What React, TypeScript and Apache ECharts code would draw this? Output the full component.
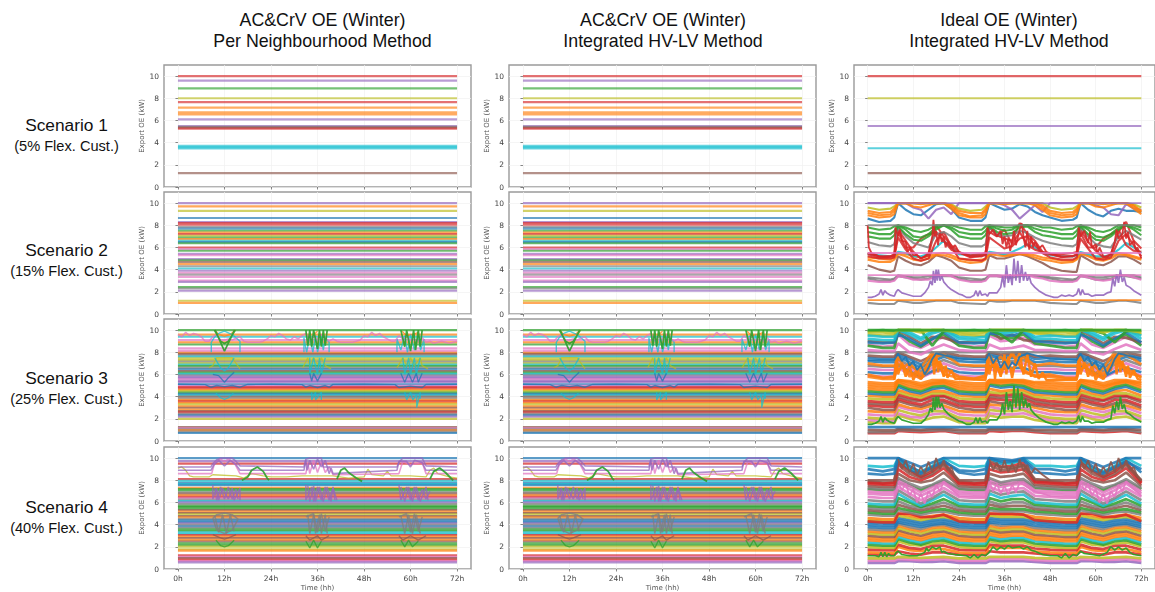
import React, { useEffect, useRef } from "react";
import * as echarts from "echarts";

const PALETTE = ["#1f77b4", "#ff7f0e", "#2ca02c", "#d62728", "#9467bd", "#8c564b", "#e377c2", "#7f7f7f", "#bcbd22", "#17becf"];
const columnTitles = [["AC&CrV OE (Winter)", "Per Neighbourhood Method"], ["AC&CrV OE (Winter)", "Integrated HV-LV Method"], ["Ideal OE (Winter)", "Integrated HV-LV Method"]];
const scenarioNames = ["Scenario 1", "Scenario 2", "Scenario 3", "Scenario 4"];
const scenarioShares = ["(5% Flex. Cust.)", "(15% Flex. Cust.)", "(25% Flex. Cust.)", "(40% Flex. Cust.)"];
const xTicks = [0, 12, 24, 36, 48, 60, 72];
const yTicks = [0, 2, 4, 6, 8, 10];

// flat lines: kW level + palette index
const s1Levels = [10, 9.6, 8.9, 8, 7.65, 7.15, 6.72, 6.55, 6.1, 5.5, 5.42, 5.35, 5.27, 3.72, 3.6, 3.48, 1.25];
const s1Colors = [3, 4, 2, 8, 3, 1, 1, 1, 4, 4, 7, 5, 3, 9, 9, 9, 5];
const idealS1Levels = [10, 8, 5.5, 3.5, 1.25];
const idealS1Colors = [3, 8, 4, 9, 5];
const s2Levels = [10, 9.7, 9.3, 8.65, 8.3, 8.2, 8.05, 7.85, 7.7, 7.5, 7.35, 7.2, 7.05, 6.9, 6.75, 6.6, 6.48, 6.38, 6, 5.85, 5.7, 5.42, 5.3, 4.95, 4.85, 4.7, 4.5, 4.3, 4.1, 3.9, 3.72, 3.55, 3.35, 3.02, 2.9, 2.42, 2.3, 2.1, 1.2, 1.0];
const s2Colors = [4, 1, 8, 0, 4, 3, 3, 7, 0, 2, 1, 3, 8, 2, 1, 9, 0, 2, 3, 6, 2, 4, 6, 4, 2, 5, 1, 7, 9, 4, 6, 7, 6, 6, 4, 2, 7, 4, 8, 1];
const s3Levels = [10, 9.6, 9.4, 9.1, 8.9, 8.7, 8.35, 8.12, 7.95, 7.85, 7.72, 7.6, 7.45, 7.3, 7.15, 7, 6.88, 6.75, 6.6, 6.45, 6.3, 6.17, 6.05, 5.92, 5.8, 5.67, 5.55, 5.42, 5.3, 5.1, 4.98, 4.87, 4.75, 4.62, 4.5, 4.37, 4.25, 4.12, 4, 3.85, 3.7, 3.58, 3.45, 3.3, 3.12, 3, 2.82, 2.7, 2.58, 2.45, 2.32, 2.2, 2, 1.25, 1.15, 1.05, 0.95, 0.85, 0.72];
const s3Colors = [2, 1, 9, 6, 1, 2, 6, 6, 1, 5, 7, 9, 8, 8, 7, 8, 9, 2, 7, 0, 5, 2, 9, 7, 4, 4, 6, 4, 4, 0, 6, 3, 3, 1, 8, 2, 0, 9, 5, 7, 1, 3, 1, 8, 1, 5, 1, 5, 3, 7, 0, 4, 8, 5, 6, 7, 1, 7, 0];
const s4Levels = [10, 9.72, 9.5, 8.1, 7.95, 7.75, 7.65, 7.55, 7.32, 7.2, 7.08, 6.92, 6.8, 6.65, 6.5, 6.38, 6.25, 6.12, 6, 5.85, 5.7, 5.58, 5.45, 5.32, 5.18, 5.05, 4.92, 4.78, 4.65, 4.52, 4.38, 4.25, 4.12, 4, 3.85, 3.72, 3.58, 3.45, 3.3, 3.18, 3.05, 2.92, 2.78, 2.62, 2.48, 2.32, 2.15, 2.02, 1.78, 1.65, 1.22, 1.1, 0.98, 0.85, 0.72, 0.6];
const s4Colors = [0, 4, 3, 3, 9, 0, 9, 0, 1, 2, 2, 7, 5, 1, 3, 6, 7, 9, 4, 7, 2, 2, 2, 5, 1, 5, 8, 5, 1, 7, 0, 0, 4, 7, 0, 7, 2, 2, 9, 9, 3, 1, 5, 1, 5, 2, 2, 8, 8, 1, 3, 6, 5, 3, 6, 4];

// wandering traces of the AC&CrV panels: [hour, kW], null breaks the line
type Pt = [number, number | null];
const s3Pink: Pt[] = [[0,9.6],[1,9.4],[2,9.8],[3,9.5],[4,9.7],[5,9.6],[6,9.4],[7,9],[8,9],[9,9.4],[10,9.6],[11,9.1],[12,9.1],[13,9.2],[14,9.1],[15,9.3],[16,9.4],[17,9],[18,8.9],[19,8.9],[20,8.9],[21,8.9],[22,9],[23,9.2],[24,9.5],[25,9.4],[26,9.7],[27,9.5],[28,9.2],[29,9.1],[30,9.4],[31,9.2],[32,9.5],[33,9.7],[34,9.1],[35,9.4],[36,9.2],[37,9.6],[38,9.3],[39,9],[40,9.2],[41,9],[42,8.9],[43,8.9],[44,8.9],[45,8.9],[46,9],[47,9.1],[48,9.5],[49,9.4],[50,9.8],[51,9.5],[52,9.7],[53,9.4],[54,9.2],[55,9],[56,9],[57,9.5],[58,9.2],[59,9.4],[60,9.1],[61,9.2],[62,9],[63,9.3],[64,8.9],[65,9],[66,8.8],[67,8.9],[68,9],[69,8.9],[70,8.8],[71,8.9],[72,9]];
const s3Green: Pt[] = [[9.6,10],[12,8.1],[14.6,10],[0,null],[9.4,10],[11,9],[12,8.8],[13,9],[14.8,10],[0,null],[33,10],[33.5,8.6],[34,10],[34.5,8.5],[35,10],[36,8.3],[36.5,10],[37,8.5],[37.5,10],[38,8.6],[38.5,10],[0,null],[57.5,10],[58.5,8.5],[59,10],[60,8.1],[60.8,10],[61.3,8.2],[62,10],[62.5,8.5],[63,10]];
const s3Cyan: Pt[] = [[8.6,8],[8.6,8.9],[9.5,9.4],[10.5,9.7],[12,9.9],[14,9.6],[16,9],[16,8],[0,null],[32.5,8],[32.5,9.3],[33.2,8],[34,9.4],[34.8,8],[35.5,9.5],[36,8],[37,9.4],[37.5,8.2],[38,9.3],[39,8.9],[39,8],[0,null],[56.5,8],[56.5,9.2],[57.5,8.2],[58.5,9.5],[59.2,8],[60,9.6],[61,8.2],[62,9.5],[62.6,8.2],[63.5,9.2],[63.5,8]];
const s3Orange: Pt[] = [[9.5,10],[10.5,9.6],[12,9.45],[13.5,9.6],[14.8,10],[0,null],[35,9.6],[36,9.9],[0,null],[57.8,9.9],[59,9.5],[60.5,9.6],[62,9.8]];
const s3Olive: Pt[] = [[8,6.6],[9,6.8],[10,7.5],[11.5,7.5],[14,7.5],[15,7],[16,6.5],[0,null],[32.2,6.6],[33.5,7.5],[34,6.8],[35,7.5],[36,6.9],[37,7.5],[38,6.8],[39.5,6.5],[0,null],[56.5,6.6],[58,7.5],[59,6.8],[60,7.5],[61,6.8],[62.5,7.5],[63,6.8],[64.5,6.5]];
const s3Teal: Pt[] = [[9.5,7.5],[11,6.6],[12,6.3],[13,6.6],[14.5,7.5],[0,null],[34,7.5],[34,6],[35,7.5],[36,6],[36.5,7.5],[37,6],[38,7.5],[0,null],[58,7.5],[58.5,6],[59.5,7.5],[60,6],[61,7.5],[61.5,6],[62.5,7.5]];
const s3Blue: Pt[] = [[9,6],[10.5,5.9],[12,5.3],[13,5.7],[14.5,6.2],[0,null],[34,6.1],[34.5,5.4],[35,6.1],[36,5.4],[37,6.1],[0,null],[57.5,6.1],[58.5,5.3],[59.5,6.1],[60.5,5.3],[61.5,6.1],[62,5.3],[63,6.1]];
const s3LowCyan: Pt[] = [[9.8,4.3],[11,3.9],[12,3.75],[13,3.9],[14.3,4.3],[0,null],[34.5,4.4],[34.5,3.7],[35.5,4.4],[35.5,3.7],[37,4.4],[37,3.7],[0,null],[58.5,4.4],[59,3.7],[60,4.4],[60.6,3.7],[61.6,4.2],[61.6,3],[62.5,4.4],[62.5,3.8]];
const s3WaveBlue: Pt[] = [[0,5.12],[7,5.08],[8.5,4.85],[10,5],[12,4.9],[14,5],[16,4.85],[18,5.1],[24,5.12],[32,5.08],[33,4.85],[34,5],[36,4.82],[38,5],[39,4.85],[40,5.1],[48,5.12],[56,5.08],[57,4.82],[60,4.95],[63,4.82],[64,5.1],[72,5.12]];
const s4Arc1: Pt[] = [[0,9.2],[8.5,9.2],[9,9.5],[10,9.85],[11,10],[14,10],[15,9.7],[16,9.3],[32.5,9.2],[33,9.9],[34,10],[37,10],[37.5,9.2],[56.5,9.2],[57,9.6],[58,10],[63,10],[64,9.3],[72,9.2]];
const s4Arc2: Pt[] = [[0,8.9],[8.5,8.9],[9.3,9.4],[10.5,9.8],[12,9.3],[13.5,9.8],[15,9.4],[16,8.9],[32.5,8.9],[33,9.8],[33.3,8.9],[34,9.8],[35,9],[36,9.9],[37,9.2],[38,9.8],[39,8.6],[39.5,9.1],[40,8.6],[56.5,8.9],[57,9.7],[59,9.7],[60,9.2],[61,9.8],[63,9.6],[64,8.9],[72,8.9]];
const s4Arc3: Pt[] = [[0,8.6],[8.7,8.6],[9.5,9.6],[11,9.9],[12,9.7],[13,9.9],[14.5,9.6],[16,8.6],[33,8.6],[33.5,9.6],[34,8.6],[35,9.8],[36,8.7],[37,9.7],[38,8.7],[39,9.2],[40,8.5],[57,8.6],[58,9.7],[60,9.4],[63,9.6],[64,8.6],[72,8.6]];
const s4Olive: Pt[] = [[0,9.1],[1,9.2],[2,8.9],[3,8.4],[4,8.3],[6,8.3],[8,8.3],[9,8.5],[15,8.4],[16,8.3],[17,8.2],[19,8.6],[22,8.4],[24,8.3],[28,8.3],[32,8.4],[36,8.4],[40,8.4],[44,8.2],[48,8.3],[49,9],[50,8.5],[53,8.4],[54,8.8],[55,8.4],[60,8.4],[64,8.3],[65,8.9],[66,9.1],[67,8.6],[70,8.3],[72,8.2]];
const s4Green: Pt[] = [[16.5,8],[18,8.3],[19,8.9],[20.5,9.2],[22,8.8],[23,8.2],[23.5,8],[0,null],[41,8.1],[42,8.9],[43,9.1],[44,8.7],[46,8.2],[47.5,7.9],[0,null],[65,8.1],[66,8.8],[67.5,9.1],[69,8.7],[71,8]];
const s4Purple: Pt[] = [[9,7.6],[9,6.3],[10,7.3],[10.5,6.2],[11.5,7.3],[13,6.3],[14,7.3],[14.5,6.2],[16,7.3],[16,6.2],[0,null],[33,7.6],[33,6.2],[34.5,7.4],[35,6.1],[36,7.4],[37,6.2],[38,7.4],[39,6.2],[40,7.3],[41,6.2],[0,null],[57,7.6],[57.5,6.2],[59,7.4],[60,6.2],[61,7.4],[62,6.2],[63,7.2],[64,6.3],[65,7]];
const s4Purple2: Pt[] = [[9.5,7.3],[10,6.2],[11,7.4],[12,6.3],[13,7.4],[14,6.3],[15,7.2],[15.5,6.3],[0,null],[33.5,7.5],[34,6.1],[35,7.5],[35.5,6.1],[36.5,7.4],[37.5,6.1],[38.5,7.4],[39.5,6.1],[40,7.4],[40.5,6.2],[0,null],[57.5,7.4],[58.5,6.1],[59.5,7.4],[60.5,6.1],[61.5,7.4],[62.5,6.1],[64,7.4],[64.5,6.2]];
const s4Gray: Pt[] = [[9,4.6],[10,4.9],[12,5.05],[14,4.9],[15.5,4.5],[14,3.5],[12,3.2],[10,3.5],[9,4.6],[0,null],[33,4.7],[35,5],[36,3.3],[37,5],[38,3.4],[39,4.7],[0,null],[57,4.7],[59,5],[60,3.3],[61,5],[62,3.4],[63,4.7]];
const s4Gray2: Pt[] = [[33.5,4.9],[34,3.2],[35,4.9],[35.5,3.2],[36.5,4.9],[37,3.2],[38,4.9],[38.5,3.2],[0,null],[9.5,4.8],[10.5,3.3],[11.5,4.9],[12.5,3.2],[13.5,4.9],[14.5,3.4],[0,null],[57.5,4.8],[58.5,3.2],[59.5,4.9],[60.5,3.2],[61.5,4.9],[62.5,3.2]];
const s4LowGreen: Pt[] = [[9.8,2.6],[11,2.1],[12,2],[13,2.1],[14.5,2.6],[0,null],[33,2.5],[34,1.9],[35,2.6],[36,1.9],[37,2.5],[0,null],[57.5,2.6],[58.5,2],[59.5,2.6],[60.5,2],[62,2.5]];
const s4Brown: Pt[] = [[9,3.1],[11,2.8],[12,2.7],[13,2.8],[15,3.1],[0,null],[33,3],[34,2.6],[36,3],[37,2.6],[39,3],[0,null],[57,3],[58,2.6],[60,3],[62,2.6],[64,3]];

// spiky traces of the ideal panels
const spikeTrace: Pt[] = [[0,1.5],[1,1.5],[2,1.6],[3,1.8],[3.5,2.2],[4,1.7],[4.5,2.1],[5,1.9],[6,1.7],[7,1.6],[7.5,2],[8,2.2],[9,1.9],[10,1.8],[12,1.6],[14,1.6],[15,1.9],[16,2.4],[16.5,3],[17,2.6],[17.3,3.9],[17.7,2.8],[18,4],[18.3,3],[18.6,4],[19,3],[19.5,3.4],[20,2.9],[21,2.5],[22,2.2],[23,2],[24,1.8],[25,1.7],[26,1.5],[27,1.5],[28,1.7],[28.5,2.1],[29,1.6],[29.5,2.1],[30,1.7],[31,1.8],[31.5,1.6],[32,1.9],[33,1.9],[34,1.9],[35,2.4],[35.5,3.4],[36,2.4],[36.5,4.4],[37,2.8],[37.5,3.6],[38,2.6],[38.5,5],[39,3],[39.5,4.8],[40,2.8],[40.5,4.4],[41,3],[41.5,3.8],[42,3],[42.5,3.4],[43,2.8],[44,2.4],[45,2.1],[46,1.9],[47,1.7],[48,1.6],[49,1.5],[50,1.5],[51,1.7],[52,1.6],[53,1.7],[54,1.6],[55,1.8],[55.5,2.3],[56,1.7],[56.5,2.2],[57,1.8],[58,1.8],[59,1.6],[60,1.7],[61,1.7],[62,1.7],[63,1.9],[64,2],[64.5,3.2],[65,2.5],[65.5,3.6],[66,2.8],[66.5,4],[67,2.9],[67.5,3.3],[68,2.6],[69,2.4],[70,2.1],[71,1.9],[72,1.7]];
const greenLowTrace: Pt[] = [[0,1.2],[2,1.2],[3,1.1],[3.5,1.5],[4,1.1],[4.5,1.5],[5,1.1],[5.5,1.4],[6,1.2],[7,1.2],[7.5,1.5],[8,1.6],[9,1.3],[11,1.2],[13,1.2],[15,1.5],[15.5,1.9],[16,1.6],[17,2],[18,1.8],[19,2],[19.5,1.5],[20,1.6],[21,1.4],[23,1.3],[26,1.2],[27,1],[28,1.3],[29,1],[30,1.3],[31,1.2],[32,1.5],[33,2],[34,1.7],[35,2],[36,1.8],[37,2.1],[38,1.9],[40,2],[41,1.8],[42,2],[43,1.7],[44,1.6],[46,1.3],[48,1.2],[50,1.2],[51,1],[52,1.4],[53,1],[54,1.3],[55,1.2],[56,1.6],[57,1.4],[59,1.3],[61,1.2],[63,1.5],[64,2],[65,1.7],[66,2],[67,1.7],[68,1.9],[69,1.5],[70,1.3],[72,1.2]];
const ideal2RedJag: Pt[] = [[0,8],[0.3,6],[1,5.5],[3,5.2],[5,5.1],[7,5.2],[7.3,7.8],[8,7],[8.5,7.6],[9,6.6],[10,6.5],[10.5,5.6],[11,5.9],[12,5.3],[13,5.3],[14,5],[15,5.2],[16,5.5],[17,7],[17.3,8.5],[17.7,7],[18,7.5],[18.5,6.2],[19,7.3],[19.5,6.5],[20,7],[20.5,6],[21,6.5],[22,5.9],[23,6.2],[24,5.6],[25,5.4],[27,5.1],[29,5.2],[31,5.3],[31.5,7.8],[32,7.2],[33,7.6],[34,7],[35,7.5],[35.5,6.3],[36,7],[36.5,6],[37,6.8],[37.5,5.7],[38,6.5],[38.5,7.5],[39,6.2],[40,7.6],[40.5,8.2],[41,7],[41.5,6],[42,7.5],[42.5,5.8],[43,7],[43.5,6],[44,6.5],[45,5.9],[46,6.2],[47,5.6],[49,5.3],[51,5.1],[53,5.2],[55,5.3],[55.5,7.8],[56,7],[57,7.5],[58,6.4],[58.5,7.4],[59,6],[60,6.3],[60.5,5.4],[61,6],[62,5.2],[63,5.1],[64,5.4],[65,6.5],[65.5,7.6],[66,6.8],[67,7.2],[67.5,8.3],[68,6.8],[68.5,7.4],[69,6.2],[70,6.6],[70.5,5.8],[71,6],[72,5]];
const ideal3OrangeJag: Pt[] = [[7,5.5],[7.5,7.6],[8,6],[9,7],[10,5.8],[11,6.8],[12,5.5],[13,6.2],[14,5.6],[15,6],[16,6.4],[17,7.8],[17.5,6],[18,7.9],[18.5,6.2],[19,7.2],[20,5.8],[20.5,6.8],[21,5.7],[22,6.4],[23,5.6],[31,5.5],[31.5,7.4],[32,6],[33,7.4],[33.5,5.6],[34,7],[35,5.8],[36,7.8],[36.5,6],[37,7.6],[38,5.7],[39,7.4],[40,7.9],[41,6],[42,7.8],[43,5.8],[44,7],[45,5.6],[46,6.2],[47,5.5],[55,5.5],[55.5,7.6],[56,6],[57,7],[58,5.8],[59,6.8],[60,5.5],[61,6.2],[62,5.6],[63,6.2],[64,6.4],[65,7.8],[65.5,6],[66,7.9],[66.5,6.2],[67,7.2],[68,5.8],[68.5,6.8],[69,5.7],[70,6.4],[71,5.6],[72,5.5]];
const ideal3BlueJag: Pt[] = [[0,7.3],[7,7.3],[8,7.9],[9,7.2],[10,7.6],[11,6.8],[12,7.2],[13,6.4],[14,6.9],[15,6],[16,6.6],[17,7.4],[18,7.9],[24,7.4],[31,7.3],[32,7.9],[33,7],[34,7.6],[35,6.6],[36,7.2],[37,6.5],[38,7.1],[39,6.8],[40,7.6],[42,7.9],[48,7.4],[55,7.3],[56,7.9],[57,7.2],[58,7.6],[59,6.8],[60,7.2],[61,6.4],[62,6.9],[63,6],[64,6.6],[65,7.4],[66,7.9],[72,7.4]];
const ideal4RedJag: Pt[] = [[8,9.9],[9,9],[10,9.8],[11,8.7],[12,9.5],[13,8.5],[14,9.2],[15,8.6],[16,9.7],[17,8.7],[18,10],[19,9],[20,9.8],[21,8.9],[22,9.2],[23,8.3],[24,8],[0,null],[32,9.9],[33,8.9],[34,9.6],[35,8.8],[36,9.8],[37,8.7],[38,9.5],[39,8.7],[40,9.9],[41,8.8],[42,9.4],[43,8.6],[44,9.1],[46,8.5],[48,8],[0,null],[56,9.9],[57,9],[58,9.8],[59,8.7],[60,9.5],[61,8.5],[62,9.2],[63,8.6],[64,9.7],[65,8.7],[66,10],[67,9],[68,9.8],[69,8.9],[70,9.2],[71,8.3],[72,8]];
const ideal4PinkJag: Pt[] = [[8,7.9],[9,7.1],[10,7.7],[11,6.6],[12,7.2],[13,6],[14,6.8],[15,5.9],[16,7],[17,6.5],[18,7.6],[19,7],[20,7.9],[22,7.2],[24,6.6],[31,6.5],[32,7.9],[33,7],[34,7.7],[35,6.8],[36,7.5],[37,6.7],[38,7.6],[39,6.9],[40,7.8],[42,7.4],[44,7],[48,6.6],[55,6.5],[56,7.9],[57,7.1],[58,7.7],[59,6.6],[60,7.2],[61,6],[62,6.8],[63,5.9],[64,7],[65,6.5],[66,7.6],[67,7],[68,7.9],[70,7.2],[72,6.6]];

// Scenario 2, ideal OE
const ideal2Hours = [0,3,6,7,8,10,12,14,16,18,20,22,24,27,30,31,32,34,36,38,40,42,44,46,48,51,54,55,56,58,60,62,64,66,68,70,72];
const ideal2Flat = [10, 8, 5.5, 3.5, 1.25];
const ideal2FlatColors = [4, 7, 6, 6, 1];
const ideal2Colors = [7,7,7,6,5,1,1,9,3,3,3,7,2,2,2,0,4,1,1,8,1];
const ideal2Traces = [
[1,.9,.9,.9,1.2,1.1,1,1,1.1,1.2,1.2,1.2,1,.95,.9,.9,1.2,1.1,1.1,1.2,1.2,1.2,1.2,1.1,1,.95,.9,.9,1.2,1.1,1,1,1.1,1.2,1.2,1.1,1],
[3.3,3.2,3.1,3.2,3.5,3.4,3.3,3.3,3.4,3.5,3.5,3.5,3.3,3.2,3.1,3.2,3.5,3.5,3.4,3.4,3.5,3.5,3.5,3.4,3.3,3.2,3.1,3.2,3.5,3.4,3.3,3.3,3.4,3.5,3.5,3.5,3.3],
[3.2,3,3,3.1,3.4,3.3,3.2,3.1,3.2,3.4,3.4,3.4,3.2,3,3,3.1,3.4,3.4,3.3,3.3,3.4,3.5,3.4,3.3,3.2,3,3,3.1,3.4,3.3,3.1,3.1,3.2,3.4,3.4,3.3,3.2],
[3,2.9,2.9,3,3.4,3.3,3.1,3.1,3.1,3.4,3.5,3.4,3.1,2.9,2.9,3,3.4,3.4,3.3,3.4,3.5,3.5,3.3,3.2,3,2.9,2.9,3,3.4,3.3,3.1,3,3.1,3.4,3.5,3.3,3.1],
[4.4,4,3.8,3.9,5.2,4.8,4.5,4.4,4.7,5.3,5.1,4.8,4.2,3.9,3.9,4,5.3,5,5,5.2,5.4,5.2,4.9,4.6,4.2,3.9,3.8,3.8,5.3,4.9,4.5,4.4,4.7,5.2,5.2,4.9,4.5],
[4.9,4.7,4.7,4.9,5.4,5.2,4.9,4.8,5,5.3,5.3,5.1,4.8,4.6,4.7,4.9,5.4,5.3,5.2,5.3,5.4,5.3,5.1,4.9,4.8,4.6,4.7,4.9,5.4,5.2,4.9,4.8,5,5.4,5.3,5.1,4.9],
[5.1,5,4.9,5.1,5.5,5.4,5.2,5.1,5.2,5.4,5.5,5.3,5,4.8,4.9,5,5.4,5.5,5.3,5.4,5.5,5.4,5.3,5.1,5,4.8,4.8,5,5.5,5.3,5.1,5,5.2,5.5,5.4,5.2,5],
[5.4,5.3,5.2,5.3,5.6,5.5,5.2,5.2,5.4,6,6.6,6,5.4,5.3,5.3,5.3,5.6,5.5,5.4,5.6,5.9,6.3,6,5.5,5.3,5.2,5.2,5.3,5.6,5.4,5.2,5.2,5.3,5.8,6.4,6,5.5],
[5.2,5,5,5.1,6.9,5.8,5,4.8,5,6.6,7.4,6.1,5,4.9,4.8,5,6.9,6.4,5.9,6.1,6.8,7,6.2,5.5,5.1,4.9,4.9,5.1,6.8,5.9,5,4.9,5.1,6.6,7.2,6.2,5.2],
[5.5,5.2,5.2,5.4,7.6,6.6,5.6,5,5.3,8,7,6.2,5.6,5.2,5.2,5.4,7.8,7.1,6.8,6.6,8.2,7.2,6.6,5.6,5.4,5.2,5.2,5.4,7.6,6.5,5.7,5.1,5.4,7.4,8.3,6.6,5.9],
[5.4,5.1,5.2,5.3,7.4,6,6,6.8,7.2,7.4,6.6,5.8,5.5,5.3,5.4,5.5,7.4,7,7.6,6.3,7.4,6.2,5.8,5.6,5.4,5.4,5.5,5.6,7.3,6,6,6.8,7.2,7.6,6.2,5.7,5.6],
[6.5,6.2,6.1,6.3,7.8,7,6.4,6.2,6,7.2,7.4,7,6.4,6.1,6.1,6.3,7.8,7.2,7,7.1,7.5,7.3,6.9,6.6,6.4,6.2,6.1,6.3,7.8,7,6.3,6.1,6,7,7.5,7.1,6.7],
[7,6.8,6.8,7.1,7.9,7.2,6.7,6.6,7,7.6,8,7.6,7,6.8,6.8,7.1,7.9,7.4,7.2,7.3,7.8,7.9,7.4,7.1,7,6.8,6.8,7.1,7.9,7.2,6.7,6.6,7,7.6,8,7.6,7.1],
[7.4,7.2,7.2,7.5,8,7.6,7,6.9,7.2,7.8,8,7.8,7.4,7.2,7.2,7.5,8,7.7,7.5,7.6,8,8,7.7,7.5,7.4,7.2,7.2,7.5,8,7.6,7,6.9,7.2,7.8,8,7.8,7.5],
[7.8,7.6,7.7,7.9,8,7.8,7.5,7.4,7.6,8,8,8,7.8,7.6,7.6,7.9,8,7.9,7.8,7.8,8,8,8,7.8,7.8,7.6,7.7,7.9,8,7.8,7.5,7.4,7.6,8,8,8,7.8],
[8.6,8.3,8.4,8.7,10,9.4,9,8.9,9.4,9.9,10,9.5,8.7,8.4,8.4,8.7,10,9.7,9.4,9.5,9.9,9.7,9.2,8.9,8.7,8.4,8.5,8.7,10,9.4,9,8.8,9.3,9.5,9.3,9.3,9.2],
[10,10,10,10,10,10,9.6,9.4,8.6,9.4,9.6,9,10,10,10,10,10,10,9.8,9.4,8.6,9.2,9.8,9.2,10,10,10,10,10,10,9.8,9.6,9,8.9,9.9,9.5,9.4],
[8.9,8.7,8.8,9,10,10,9.7,9.6,9.8,10,10,9.5,8.9,8.7,8.7,9,10,10,9.9,10,10,10,9.8,9.4,8.9,8.7,8.8,9,10,10,9.7,9.6,9.8,10,10,9.5,9],
[9.1,8.9,9,9.3,10,10,10,9.9,10,10,10,9.7,9.1,8.8,8.9,9.3,10,10,10,10,10,10,10,9.6,9.1,8.9,9,9.3,10,10,10,9.9,10,10,10,9.7,9.2],
[9.6,9.4,9.5,9.7,10,10,10,10,10,10,10,9.9,9.5,9.3,9.4,9.7,10,10,10,10,10,10,10,10,9.6,9.4,9.5,9.7,10,10,10,10,10,10,10,9.9,9.6],
[9.3,9.1,9.2,9.5,10,10,10,10,10,10,10,9.8,9.3,9.1,9.1,9.5,10,10,10,10,10,10,10,9.8,9.3,9.1,9.2,9.5,10,10,10,10,10,10,10,9.8,9.3],
];

// Scenario 3 and 4, ideal OE
const denseHours = [0,4,7,8,11,14,17,20,24,28,31,32,35,38,41,44,48,52,55,56,59,62,65,68,72];
const ideal3Colors = [3,7,5,0,8,6,8,6,1,5,3,5,3,8,1,0,2,1,1,1,1,6,0,6,7,0,0,5,1,1,1,7,6,6,2,5,0,9,2,8,9,8,2];
const ideal3Traces = [
[.7,.7,.7,.9,.85,.8,.85,.9,.7,.7,.7,.9,.85,.9,.9,.8,.7,.7,.7,.9,.85,.8,.85,.9,.7],
[.8,.8,.8,1,.95,.9,.95,1,.8,.8,.8,1,1,1,1,.9,.8,.8,.8,1,.95,.9,.95,1,.8],
[1,.95,.95,1.1,1.05,1,1.1,1.1,1,.95,.95,1.1,1.1,1.1,1.1,1,1,.95,.95,1.1,1.05,1,1.1,1.1,1],
[1.25,1.25,1.25,1.25,1.25,1.25,1.25,1.25,1.25,1.25,1.25,1.25,1.25,1.25,1.25,1.25,1.25,1.25,1.25,1.25,1.25,1.25,1.25,1.25,1.25],
[1.7,1.6,1.6,2.3,2,1.8,2.1,2.2,1.7,1.6,1.6,2.3,2.1,2.2,2.2,1.9,1.7,1.6,1.6,2.3,2,1.8,2.1,2.2,1.8],
[1.9,1.8,1.8,2.5,2.2,2.1,2.4,2.5,1.9,1.8,1.8,2.5,2.4,2.4,2.5,2.2,1.9,1.8,1.8,2.5,2.2,2.1,2.4,2.5,2],
[2.1,2,2,2.8,2.5,2.3,2.7,2.7,2.1,2,2,2.8,2.7,2.7,2.8,2.4,2.1,2,2,2.8,2.5,2.3,2.7,2.7,2.2],
[2.4,2.3,2.3,3.1,2.8,2.6,2.9,3,2.4,2.3,2.3,3.1,2.9,3,3,2.7,2.4,2.3,2.3,3.1,2.8,2.6,2.9,3,2.5],
[2.7,2.6,2.6,3.3,3,2.9,3.2,3.2,2.7,2.6,2.6,3.3,3.2,3.2,3.3,3,2.7,2.6,2.6,3.3,3,2.9,3.2,3.2,2.8],
[3,2.8,2.8,3.6,3.3,3.1,3.4,3.5,3,2.8,2.8,3.6,3.4,3.5,3.5,3.2,3,2.8,2.8,3.6,3.3,3.1,3.4,3.5,3],
[3.2,3.1,3.1,3.8,3.5,3.3,3.7,3.7,3.2,3.1,3.1,3.8,3.7,3.7,3.8,3.4,3.2,3.1,3.1,3.8,3.5,3.3,3.7,3.7,3.2],
[3.4,3.3,3.3,4,3.7,3.6,3.9,4,3.4,3.3,3.3,4,3.9,4,4,3.6,3.4,3.3,3.3,4,3.7,3.6,3.9,4,3.5],
[3.6,3.5,3.5,4.2,3.9,3.7,4.1,4.1,3.6,3.5,3.5,4.2,4.1,4.2,4.2,3.8,3.6,3.5,3.5,4.2,3.9,3.7,4.1,4.1,3.7],
[3.85,3.75,3.75,4.4,4.1,3.9,4.3,4.3,3.85,3.75,3.75,4.4,4.3,4.4,4.4,4,3.85,3.75,3.75,4.4,4.1,3.9,4.3,4.3,3.9],
[4.1,4,4,4.6,4.3,4.1,4.5,4.5,4.1,4,4,4.7,4.5,4.6,4.6,4.2,4.1,4,4,4.6,4.3,4.1,4.5,4.6,4.1],
[4.3,4.2,4.2,4.9,4.5,4.3,4.7,4.8,4.3,4.2,4.2,5,4.8,4.9,4.8,4.4,4.3,4.2,4.2,4.9,4.5,4.3,4.7,4.9,4.4],
[4.5,4.4,4.4,5.1,4.7,4.5,4.9,5,4.5,4.4,4.4,5.2,5,5.1,5,4.6,4.5,4.4,4.4,5.1,4.7,4.5,4.9,5.1,4.6],
[4.7,4.6,4.6,5.3,4.9,4.7,5.1,5.2,4.7,4.6,4.6,5.3,5.2,5.3,5.2,4.8,4.7,4.6,4.6,5.3,4.9,4.7,5.1,5.3,4.8],
[4.9,4.8,4.8,5.4,5.1,4.9,5.2,5.3,4.9,4.8,4.8,5.4,5.3,5.4,5.3,5,4.9,4.8,4.8,5.4,5.1,4.9,5.2,5.4,5],
[5.1,5,5,5.5,5.3,5,5.3,5.4,5.1,5,5,5.5,5.4,5.5,5.4,5.2,5.1,5,5,5.5,5.3,5,5.3,5.4,5.2],
[5.3,5.2,5.2,5.5,5.4,5.2,5.5,5.5,5.3,5.2,5.2,5.5,5.5,5.5,5.5,5.3,5.3,5.2,5.2,5.5,5.4,5.2,5.5,5.5,5.3],
[5.9,5.8,5.8,6.6,6,5.7,6.2,6.4,5.9,5.8,5.8,6.5,6.2,6.3,6.3,5.9,5.9,5.8,5.8,6.5,6,5.7,6.2,6.4,5.9],
[6.2,6.1,6.1,6.9,6.3,5.8,6.3,6.6,6.2,6.1,6.1,6.8,6.5,6.6,6.6,6.2,6.2,6.1,6.1,6.8,6.3,5.8,6.3,6.6,6.2],
[6.5,6.4,6.4,7.2,6.6,6,6.6,7,6.5,6.4,6.4,7.2,6.8,7,7,6.5,6.5,6.4,6.4,7.2,6.6,6,6.6,7,6.5],
[6.8,6.7,6.7,7.4,6.8,6.3,6.9,7.3,6.8,6.7,6.7,7.4,7.1,7.2,7.3,6.8,6.8,6.7,6.7,7.4,6.8,6.3,6.9,7.3,6.8],
[7.2,7.1,7.1,7.7,7.1,6.6,7.2,7.6,7.2,7.1,7.1,7.7,7.4,7.5,7.6,7.1,7.2,7.1,7.1,7.7,7.1,6.6,7.2,7.6,7.2],
[7.5,7.4,7.4,7.9,7.4,6.9,7.5,7.8,7.5,7.4,7.4,7.9,7.6,7.7,7.8,7.4,7.5,7.4,7.4,7.9,7.4,6.9,7.5,7.8,7.5],
[7.7,7.6,7.6,8,7.6,7.2,7.7,8,7.7,7.6,7.6,8,7.8,7.9,8,7.6,7.7,7.6,7.6,8,7.6,7.2,7.7,8,7.7],
[5.8,5.6,5.6,7,6.2,5.6,7.6,6.6,5.8,5.6,5.7,7.2,6.4,7.8,6.4,5.8,5.8,5.6,5.6,7,6.2,5.6,7.5,6.6,5.7],
[6,5.7,5.8,7.6,5.8,6.6,8,6,5.7,5.6,5.9,7.8,6,8,6.2,5.9,6,5.7,5.7,7.6,5.9,6.6,8,6.2,5.8],
[7,6.8,6.8,6.4,7,6,7.5,7.8,6.9,6.8,6.8,6.6,7.6,6.4,7.6,6.8,7,6.8,6.8,6.5,7,6,7.5,7.8,6.9],
[8,8,8,8,8,8,8,8,8,8,8,8,8,8,8,8,8,8,8,8,8,8,8,8,8],
[8.2,8.1,8.1,8.8,8,7.8,8.3,8.7,8.2,8.1,8.1,8.7,8.3,8.4,8.6,8.2,8.2,8.1,8.1,8.8,8,7.8,8.3,8.7,8.2],
[8.7,8.5,8.6,9.6,8.7,8.4,8.9,9.4,8.7,8.5,8.6,9.5,9,9.1,9.3,8.7,8.7,8.5,8.6,9.6,8.7,8.4,8.9,9.4,8.7],
[8.6,8.4,8.4,9.8,9,8.5,9.2,9.6,8.6,8.4,8.4,9.7,9.3,9.3,9.6,8.8,8.6,8.4,8.4,9.8,9,8.5,9.2,9.6,8.6],
[9,8.9,8.9,10,9.4,8.8,9.4,9.3,8.9,8.9,8.9,10,9.2,9.6,9.1,9,9,8.9,8.9,10,9.4,8.8,9.4,9.3,8.9],
[8.9,8.8,8.9,9.6,9.2,8.6,9.2,9.8,8.9,8.8,8.9,9.7,9.6,9.5,9.8,9,8.9,8.8,8.9,9.6,9.2,8.6,9.2,9.8,8.9],
[9.2,9.1,9.1,10,9.6,9.1,9.7,10,9.2,9.1,9.1,10,9.7,9.8,10,9.2,9.2,9.1,9.1,10,9.6,9.1,9.7,10,9.2],
[9.9,10,9.9,10,10,10,8.6,9.9,9.9,10,9.9,10,9.6,8.9,10,9.9,9.9,10,9.9,10,10,9.7,8.9,9.9,9.9],
[9.6,9.5,9.5,10,10,9.8,10,10,9.6,9.5,9.5,10,10,10,10,9.7,9.6,9.5,9.5,10,10,9.8,10,10,9.6],
[9.5,9.4,9.4,10,9.8,9.3,9.9,10,9.4,9.3,9.4,10,9.9,9.9,10,9.4,9.5,9.4,9.4,10,9.8,9.3,9.9,10,9.5],
[9.8,9.8,9.7,10,10,10,10,10,9.8,9.7,9.8,10,10,10,10,9.8,9.8,9.8,9.7,10,10,10,10,10,9.8],
[10,10,10,10,10,10,10,10,10,10,10,10,10,10,10,10,10,10,10,10,10,10,10,10,10],
];
const ideal4Colors = [4,6,8,3,1,3,8,2,9,1,1,5,8,1,7,0,0,0,8,1,3,7,2,5,7,2,9,7,6,2,6,6,7,5,3,5,3,5,0,9,0,0];
const ideal4Traces = [
[.55,.55,.55,.7,.7,.65,.65,.7,.55,.55,.55,.7,.7,.7,.7,.65,.55,.55,.55,.7,.7,.65,.65,.7,.55],
[.75,.75,.75,.9,.85,.8,.85,.9,.75,.75,.75,.9,.9,.9,.9,.8,.75,.75,.75,.9,.85,.8,.85,.9,.75],
[.95,.95,.95,1.1,1.05,1,1.05,1.1,.95,.95,.95,1.1,1.1,1.1,1.1,1,.95,.95,.95,1.1,1.05,1,1.05,1.1,.95],
[1.3,1.25,1.25,1.6,1.4,1.3,1.5,1.5,1.3,1.25,1.25,1.6,1.5,1.5,1.5,1.4,1.3,1.25,1.25,1.6,1.4,1.3,1.5,1.5,1.3],
[1.5,1.45,1.45,2,1.7,1.6,1.8,1.8,1.5,1.45,1.45,2,1.9,1.9,1.9,1.6,1.5,1.45,1.45,2,1.7,1.6,1.8,1.8,1.5],
[1.75,1.7,1.7,2.2,1.9,1.8,2.1,2.1,1.75,1.7,1.7,2.2,2.1,2.1,2.1,1.85,1.75,1.7,1.7,2.2,1.9,1.8,2.1,2.1,1.75],
[2,1.9,1.9,2.5,2.2,2.1,2.3,2.4,2,1.9,1.9,2.5,2.3,2.4,2.4,2.1,2,1.9,1.9,2.5,2.2,2.1,2.3,2.4,2],
[2.2,2.1,2.1,2.7,2.4,2.2,2.5,2.6,2.2,2.1,2.1,2.7,2.5,2.6,2.6,2.3,2.2,2.1,2.1,2.7,2.4,2.2,2.5,2.6,2.2],
[2.4,2.3,2.3,2.9,2.6,2.4,2.7,2.8,2.4,2.3,2.3,2.9,2.7,2.8,2.8,2.5,2.4,2.3,2.3,2.9,2.6,2.4,2.7,2.8,2.4],
[2.6,2.5,2.5,3.1,2.8,2.6,2.9,3,2.6,2.5,2.5,3.1,2.9,3,3,2.7,2.6,2.5,2.5,3.1,2.8,2.6,2.9,3,2.6],
[2.8,2.7,2.7,3.3,3,2.8,3.1,3.2,2.8,2.7,2.7,3.3,3.1,3.2,3.2,2.9,2.8,2.7,2.7,3.3,3,2.8,3.1,3.2,2.8],
[3,2.9,2.9,3.5,3.2,3,3.3,3.4,3,2.9,2.9,3.5,3.3,3.4,3.4,3.1,3,2.9,2.9,3.5,3.2,3,3.3,3.4,3],
[3.2,3.1,3.1,3.7,3.4,3.2,3.5,3.6,3.2,3.1,3.1,3.7,3.5,3.6,3.6,3.3,3.2,3.1,3.1,3.7,3.4,3.2,3.5,3.6,3.2],
[3.4,3.3,3.3,3.9,3.6,3.4,3.7,3.8,3.4,3.3,3.3,3.9,3.7,3.8,3.8,3.5,3.4,3.3,3.3,3.9,3.6,3.4,3.7,3.8,3.4],
[3.6,3.5,3.5,4.1,3.8,3.6,3.9,4,3.6,3.5,3.5,4.1,3.9,4,4,3.7,3.6,3.5,3.5,4.1,3.8,3.6,3.9,4,3.6],
[3.8,3.7,3.7,4.2,4,3.8,4,4.1,3.8,3.7,3.7,4.2,4.1,4.1,4.1,3.9,3.8,3.7,3.7,4.2,4,3.8,4,4.1,3.8],
[4,3.9,3.9,4.4,4.2,4,4.2,4.3,4,3.9,3.9,4.4,4.3,4.3,4.3,4.1,4,3.9,3.9,4.4,4.2,4,4.2,4.3,4],
[4.2,4.1,4.1,4.6,4.4,4.2,4.4,4.5,4.2,4.1,4.1,4.6,4.5,4.5,4.5,4.3,4.2,4.1,4.1,4.6,4.4,4.2,4.4,4.5,4.2],
[4.4,4.3,4.3,4.8,4.6,4.4,4.6,4.7,4.4,4.3,4.3,4.8,4.7,4.7,4.7,4.5,4.4,4.3,4.3,4.8,4.6,4.4,4.6,4.7,4.4],
[4.6,4.5,4.5,5,4.8,4.6,4.8,4.9,4.6,4.5,4.5,5,4.9,4.9,4.9,4.7,4.6,4.5,4.5,5,4.8,4.6,4.8,4.9,4.6],
[4.3,4.2,4.2,5,5,4.7,4.7,4.9,4.3,4.2,4.2,5,5,5,4.9,4.4,4.3,4.2,4.2,5,5,4.7,4.7,4.9,4.3],
[4.9,4.8,4.8,5.3,5.1,4.9,5.1,5.2,4.9,4.8,4.8,5.3,5.2,5.2,5.2,5,4.9,4.8,4.8,5.3,5.1,4.9,5.1,5.2,4.9],
[5.1,5,5,5.5,5.3,5.1,5.3,5.4,5.1,5,5,5.5,5.4,5.4,5.4,5.2,5.1,5,5,5.5,5.3,5.1,5.3,5.4,5.1],
[5.3,5.2,5.2,5.8,5.5,5.3,5.5,5.7,5.3,5.2,5.2,5.8,5.6,5.7,5.7,5.4,5.3,5.2,5.2,5.8,5.5,5.3,5.5,5.7,5.3],
[5.5,5.4,5.4,6.1,5.7,5.5,5.7,6,5.5,5.4,5.4,6.1,5.8,6,6,5.6,5.5,5.4,5.4,6.1,5.7,5.5,5.7,6,5.5],
[5.7,5.6,5.6,6.4,6,5.6,5.9,6.3,5.7,5.6,5.6,6.4,6.1,6.3,6.3,5.8,5.7,5.6,5.6,6.4,6,5.6,5.9,6.3,5.7],
[5.9,5.8,5.8,6.8,6.2,5.7,6.2,6.7,5.9,5.8,5.8,6.8,6.4,6.6,6.7,6,5.9,5.8,5.8,6.8,6.2,5.7,6.2,6.7,5.9],
[6.2,6.1,6.1,7.1,6.5,5.9,6.4,7,6.2,6.1,6.1,7.1,6.7,6.9,7,6.3,6.2,6.1,6.1,7.1,6.5,5.9,6.4,7,6.2],
[6.5,6.4,6.4,7.4,6.8,6.2,6.7,7.3,6.5,6.4,6.4,7.4,7,7.2,7.3,6.6,6.5,6.4,6.4,7.4,6.8,6.2,6.7,7.3,6.5],
[7.2,7.1,7.1,7.8,7.5,7.1,7.5,7.9,7.2,7.1,7.1,7.8,7.6,7.7,7.9,7.3,7.2,7.1,7.1,7.8,7.5,7.1,7.5,7.9,7.2],
[6.8,6.7,6.7,7.8,7.2,6.6,7.1,7.7,6.8,6.7,6.7,7.8,7.4,7.6,7.7,6.9,6.8,6.7,6.7,7.8,7.2,6.6,7.1,7.7,6.8],
[7,6.9,6.9,8,7.5,6.9,7.4,7.9,7,6.9,6.9,8,7.7,7.8,7.9,7.1,7,6.9,6.9,8,7.5,6.9,7.4,7.9,7],
[7.3,7.2,7.2,8.2,7.7,7.3,7.6,8.1,7.3,7.2,7.2,8.2,7.8,8,8.1,7.4,7.3,7.2,7.2,8.2,7.7,7.3,7.6,8.1,7.3],
[7.5,7.4,7.4,8.6,8,7.8,8,8.7,7.5,7.4,7.4,8.6,8.3,8.4,8.6,7.6,7.5,7.4,7.4,8.6,8,7.8,8,8.7,7.5],
[7.7,7.6,7.6,9,8.3,8,8.4,9.1,7.7,7.6,7.6,9,8.7,8.8,9,7.8,7.7,7.6,7.6,9,8.3,8,8.4,9.1,7.7],
[7.9,7.8,7.8,9.4,8.6,8.2,8.6,9.4,7.9,7.8,7.8,9.4,8.9,9,9.3,8,7.9,7.8,7.8,9.4,8.6,8.2,8.6,9.4,7.9],
[7.8,7.7,7.8,9.6,8.9,8.3,8.8,9.7,7.8,7.7,7.8,9.6,9.2,9.3,9.6,7.9,7.8,7.7,7.8,9.6,8.9,8.3,8.8,9.7,7.8],
[8,8,8,9.8,8.9,8.4,9,9.5,8,8,8,9.9,9.2,9.1,9.4,8.1,8,8,8,9.8,8.9,8.4,9,9.5,8],
[8.6,8.5,8.6,10,9,8.6,9.2,9.8,8.7,8.5,8.6,10,9.5,9.6,9.8,8.7,8.6,8.5,8.6,10,9,8.6,9.2,9.8,8.7],
[9.3,9.2,9.3,10,9.1,8.8,9.3,10,9.3,9.2,9.3,10,9.6,9.5,10,9.3,9.3,9.2,9.3,10,9.1,8.8,9.3,10,9.3],
[9,8.8,9,10,9.3,8.7,9.2,9.7,8.9,8.8,9,10,9.7,9.7,9.9,9,9,8.8,9,10,9.3,8.7,9.2,9.7,9],
[10,10,10,10,9.6,9.2,9.6,10,10,10,10,10,9.9,9.8,10,10,10,10,10,10,9.6,9.2,9.6,10,10],
];

const columnLefts = [164, 509, 854];
const titleCenters = [322.5, 663, 1009];
const rowTops = [65, 192, 319, 447];
const labelRows = [125, 250, 378, 507];
const panelW = 307;
const panelH = 122;

function line(grid: number, data: any[], color: number, width = 1.7, opacity = 0.75) {
  return {
    type: "line", xAxisIndex: grid, yAxisIndex: grid, data, showSymbol: false, silent: true,
    lineStyle: { color: PALETTE[color], width, opacity }, connectNulls: false,
  };
}
const flat = (grid: number, levels: number[], colors: number[], width: number, opacity: number) =>
  levels.map((v, i) => line(grid, [[0, v], [72, v]], colors[i], width, opacity));
const timed = (grid: number, hours: number[], traces: number[][], colors: number[], width: number) =>
  traces.map((t, i) => line(grid, t.map((v, k) => [hours[k], v]), colors[i], width, 0.85));

function buildOption() {
  const grids: any[] = [], xAxes: any[] = [], yAxes: any[] = [];
  let series: any[] = [];
  rowTops.forEach((top, r) => {
    columnLefts.forEach((left, c) => {
      const g = grids.length;
      grids.push({ left, top, width: panelW, height: panelH, show: true, borderColor: "#9a9a9a", borderWidth: 1.4, backgroundColor: "#fff" });
      xAxes.push({
        type: "value", gridIndex: g, min: -3.6, max: 75.6,
        name: r === 3 ? "Time (hh)" : "", nameLocation: "middle", nameGap: 15,
        nameTextStyle: { fontFamily: "DejaVu Sans", fontSize: 7, color: "#555" },
        axisLine: { show: false },
        axisTick: { show: true, length: 2.5, customValues: xTicks, lineStyle: { color: "#555", width: 0.7 } },
        axisLabel: { show: r === 3, customValues: xTicks, formatter: (v: number) => `${v}h`, fontFamily: "DejaVu Sans", fontSize: 7.5, color: "#444", margin: 5 },
        splitLine: { show: true, lineStyle: { color: "#f0f0f0", width: 0.7 } },
      });
      yAxes.push({
        type: "value", gridIndex: g, min: 0, max: 11,
        name: "Export OE (kW)", nameLocation: "middle", nameGap: 19,
        nameTextStyle: { fontFamily: "DejaVu Sans", fontSize: 7, color: "#555" },
        axisLine: { show: false },
        axisTick: { show: true, length: 2.5, customValues: yTicks, lineStyle: { color: "#555", width: 0.7 } },
        axisLabel: { customValues: yTicks, fontFamily: "DejaVu Sans", fontSize: 7.5, color: "#444", margin: 5 },
        splitLine: { show: true, lineStyle: { color: "#f0f0f0", width: 0.7 } },
      });
      if (c < 2) {
        if (r === 0) series = series.concat(flat(g, s1Levels, s1Colors, 2.2, 0.65));
        if (r === 1) series = series.concat(flat(g, s2Levels, s2Colors, 2.1, 0.68));
        if (r === 2) {
          series = series.concat(flat(g, s3Levels, s3Colors, 2.2, 0.72));
          series.push(line(g, s3Orange, 1, 1.3), line(g, s3Olive, 8, 1.3), line(g, s3Teal, 9, 1.3), line(g, s3Blue, 0, 1.3), line(g, s3LowCyan, 9, 1.3), line(g, s3WaveBlue, 0, 1.4), line(g, s3Cyan, 9, 1.4), line(g, s3Pink, 6, 1.5), line(g, s3Green, 2, 1.7, 0.9));
        }
        if (r === 3) {
          series = series.concat(flat(g, s4Levels, s4Colors, 2.2, 0.72));
          series.push(line(g, s4Gray, 7, 1.5), line(g, s4Gray2, 7, 1.5), line(g, s4Brown, 5, 1.3), line(g, s4LowGreen, 2, 1.3), line(g, s4Purple, 4, 1.5), line(g, s4Purple2, 4, 1.5), line(g, s4Olive, 8, 1.3), line(g, s4Arc3, 6, 1.6), line(g, s4Arc2, 4, 1.6), line(g, s4Arc1, 4, 1.6), line(g, s4Green, 2, 1.8, 0.9));
        }
      } else {
        if (r === 0) series = series.concat(flat(g, idealS1Levels, idealS1Colors, 2.1, 0.7));
        if (r === 1) {
          series = series.concat(timed(g, ideal2Hours, ideal2Traces, ideal2Colors, 2.1));
          series.push(line(g, ideal2RedJag, 3, 1.8, 0.9), line(g, spikeTrace, 4, 1.7, 0.9));
          series = series.concat(flat(g, ideal2Flat, ideal2FlatColors, 1.8, 0.8));
        }
        if (r === 2) {
          series = series.concat(timed(g, denseHours, ideal3Traces, ideal3Colors, 2.7));
          series.push(line(g, ideal3OrangeJag, 1, 2.4, 0.95), line(g, ideal3BlueJag, 0, 1.8, 0.9), line(g, spikeTrace, 2, 1.7, 0.95));
        }
        if (r === 3) {
          series = series.concat(timed(g, denseHours, ideal4Traces, ideal4Colors, 2.7));
          series.push(line(g, ideal4PinkJag, 6, 1.8, 0.9), line(g, ideal4RedJag, 5, 1.8, 0.9), line(g, greenLowTrace, 2, 1.6, 0.95));
        }
      }
    });
  });
  return { animation: false, grid: grids, xAxis: xAxes, yAxis: yAxes, series };
}

function buildTextOption() {
  const graphic: any[] = [];
  const text = (x: number, y: number, t: string, size: number) => graphic.push({
    type: "text", x, y, style: { text: t, x: 0, y: 0, textAlign: "center", textVerticalAlign: "middle", fontFamily: "Liberation Sans", fontSize: size, fill: "#111" },
  });
  titleCenters.forEach((x, c) => {
    text(x, 20, columnTitles[c][0], 17.8);
    text(x, 41, columnTitles[c][1], 17.8);
  });
  labelRows.forEach((y, r) => {
    text(66.5, y, scenarioNames[r], 17.3);
    text(66.5, y + 21, scenarioShares[r], 14.6);
  });
  return { animation: false, graphic };
}

export default function App() {
  const panels = useRef<HTMLDivElement>(null);
  const texts = useRef<HTMLDivElement>(null);
  useEffect(() => {
    const a = echarts.init(panels.current!, undefined, { renderer: "svg" });
    const b = echarts.init(texts.current!, undefined, { renderer: "svg" });
    a.setOption(buildOption());
    b.setOption(buildTextOption());
    return () => { a.dispose(); b.dispose(); };
  }, []);
  const box: React.CSSProperties = { position: "fixed", left: 0, top: 0, width: 1155, height: 592 };
  return (
    <div style={{ ...box, background: "#fff", overflow: "hidden" }}>
      <div ref={panels} style={{ ...box, filter: "blur(0.6px)" }} />
      <div ref={texts} style={{ ...box, pointerEvents: "none" }} />
    </div>
  );
}
